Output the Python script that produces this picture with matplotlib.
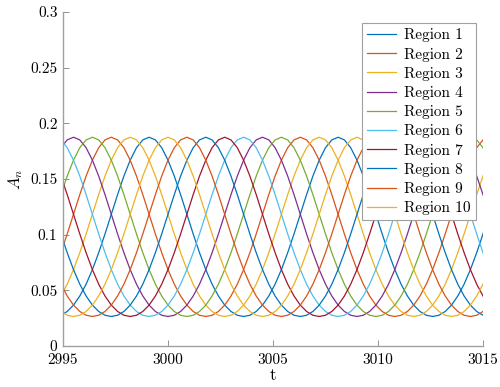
import numpy as np
import matplotlib
matplotlib.use("Agg")
import matplotlib.pyplot as plt

# one full cycle of A_n (30 samples, dt = 0.3, starting at the peak)
cycle_An = [0.1875, 0.1851, 0.1781, 0.1669, 0.1526, 0.1360, 0.1183, 0.1006,
            0.0838, 0.0686, 0.0555, 0.0449, 0.0367, 0.0310, 0.0276, 0.0265,
            0.0276, 0.0310, 0.0367, 0.0449, 0.0555, 0.0686, 0.0838, 0.1006,
            0.1183, 0.1360, 0.1526, 0.1669, 0.1781, 0.1851]
dt = 0.3
t0 = 2994.9
n_steps = 69

regions = ["Region %d" % k for k in range(1, 11)]
# time of the first peak of each region
peak_t = [2999.1, 2997.3, 2998.2, 2995.5, 2996.4,
          3003.6, 3002.7, 3001.8, 3000.9, 3000.0]

colors = ["#0072BD", "#D95319", "#EDB120", "#7E2F8E", "#77AC30",
          "#4DBEEE", "#A2142F", "#0072BD", "#D95319", "#EDB120"]

xticks = [2995, 3000, 3005, 3010, 3015]
yticks = [0, 0.05, 0.1, 0.15, 0.2, 0.25, 0.3]
ytick_labels = ["0", "0.05", "0.1", "0.15", "0.2", "0.25", "0.3"]

plt.rcParams["font.family"] = "cmr10"
plt.rcParams["mathtext.fontset"] = "cm"
plt.rcParams["axes.formatter.use_mathtext"] = True
plt.rcParams["font.size"] = 11

t = t0 + dt * np.arange(n_steps)
cyc = np.array(cycle_An)

fig = plt.figure(figsize=(5.0, 3.87), dpi=100)
ax = fig.add_axes([0.126, 0.106, 0.84, 0.863])

for name, p, c in zip(regions, peak_t, colors):
    shift = int(round((p - t0) / dt))
    idx = (np.arange(n_steps) - shift) % len(cyc)
    ax.plot(t, cyc[idx], color=c, lw=0.9, label=name)

ax.set_xlim(2995, 3015)
ax.set_ylim(0, 0.3)
ax.set_xticks(xticks)
ax.set_xticklabels([str(x) for x in xticks])
ax.set_yticks(yticks)
ax.set_yticklabels(ytick_labels)
ax.tick_params(direction="in", length=4, width=0.6, color="#808080")
ax.tick_params(axis="x", pad=5)
ax.tick_params(axis="y", pad=4)
for side in ["top", "right"]:
    ax.spines[side].set_visible(False)
for side in ["left", "bottom"]:
    ax.spines[side].set_color("#a0a0a0")
    ax.spines[side].set_linewidth(1.0)

ax.set_xlabel("t", fontsize=12, labelpad=1)
ax.set_ylabel("$A_n$", fontsize=12, labelpad=4)

leg = ax.legend(loc="upper right", bbox_to_anchor=(0.983, 0.967), fancybox=False,
                framealpha=1, edgecolor="#a0a0a0", fontsize=11,
                handlelength=1.9, handletextpad=0.5, labelspacing=0.34,
                borderpad=0.35, borderaxespad=0)
leg.get_frame().set_linewidth(0.8)

fig.savefig("out.png", dpi=100)
